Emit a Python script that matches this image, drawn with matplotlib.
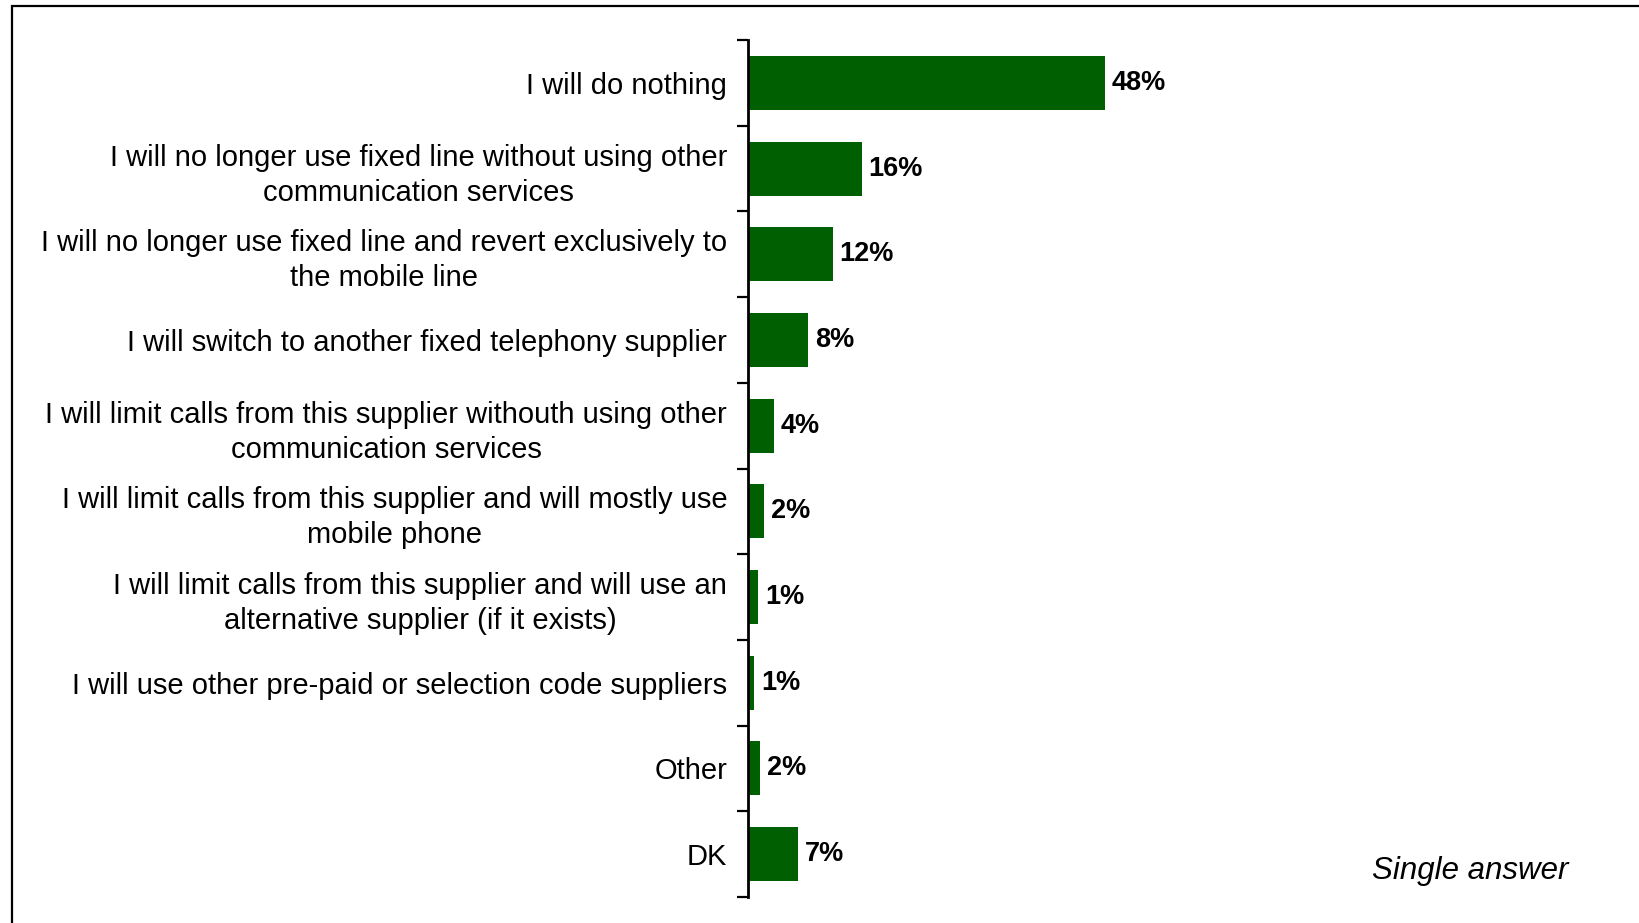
import matplotlib
matplotlib.use("Agg")
from matplotlib import pyplot as plt
from matplotlib.patches import Rectangle
import numpy as np

plt.rcParams['font.family'] = ['Liberation Sans', 'DejaVu Sans']

# data (bar lengths in %, shown labels as printed)
categories = [
    'I will do nothing',
    'I will no longer use fixed line without using other\ncommunication services',
    'I will no longer use fixed line and revert exclusively to\nthe mobile line',
    'I will switch to another fixed telephony supplier',
    'I will limit calls from this supplier withouth using other\ncommunication services',
    'I will limit calls from this supplier and will mostly use\nmobile phone',
    'I will limit calls from this supplier and will use an\nalternative supplier (if it exists)',
    'I will use other pre-paid or selection code suppliers',
    'Other',
    'DK',
]
values = [48.0, 15.3, 11.4, 8.1, 3.5, 2.2, 1.4, 0.8, 1.6, 6.7]
value_labels = ['48%', '16%', '12%', '8%', '4%', '2%', '1%', '1%', '2%', '7%']

W, H = 1639, 923
fig = plt.figure(figsize=(W / 100, H / 100), dpi=100)

# frame around the slide (only top and left edges visible)
fig.patches.append(Rectangle((11.5 / W, -0.05), 1.2, 1 - 6 / H + 0.05,
                             transform=fig.transFigure, fill=False,
                             edgecolor='black', lw=1.6))

ax = fig.add_axes([748 / W, 26 / H, 446 / W, (897 - 40) / H])
y = np.arange(len(categories))
ax.barh(y, values, height=0.63, color='#005f00', zorder=2)
ax.set_xlim(0, 60)
ax.set_ylim(len(categories) - 0.5, -0.5)

ax.set_yticks(y)
ax.set_yticklabels(categories, fontsize=21, ha='right', linespacing=1.32)
ax.tick_params(axis='y', which='major', length=0, pad=15)
ax.set_yticks(np.arange(-0.5, len(categories)), minor=True)
ax.tick_params(axis='y', which='minor', length=8, width=1.6, direction='out')
ax.set_xticks([])

for lab in ax.get_yticklabels():
    lab.set_multialignment('center')

for s in ['top', 'right', 'bottom']:
    ax.spines[s].set_visible(False)
ax.spines['left'].set_linewidth(2)

for yi, v, t in zip(y, values, value_labels):
    ax.annotate(t, (v, yi), xytext=(5, 0), textcoords='offset points',
                va='center', ha='left', fontsize=19.5, fontweight='bold')

fig.text(1568 / W, 1 - 871 / H, 'Single answer', fontsize=22.5, style='italic',
         ha='right', va='center')

fig.savefig('out.png', dpi=100)
